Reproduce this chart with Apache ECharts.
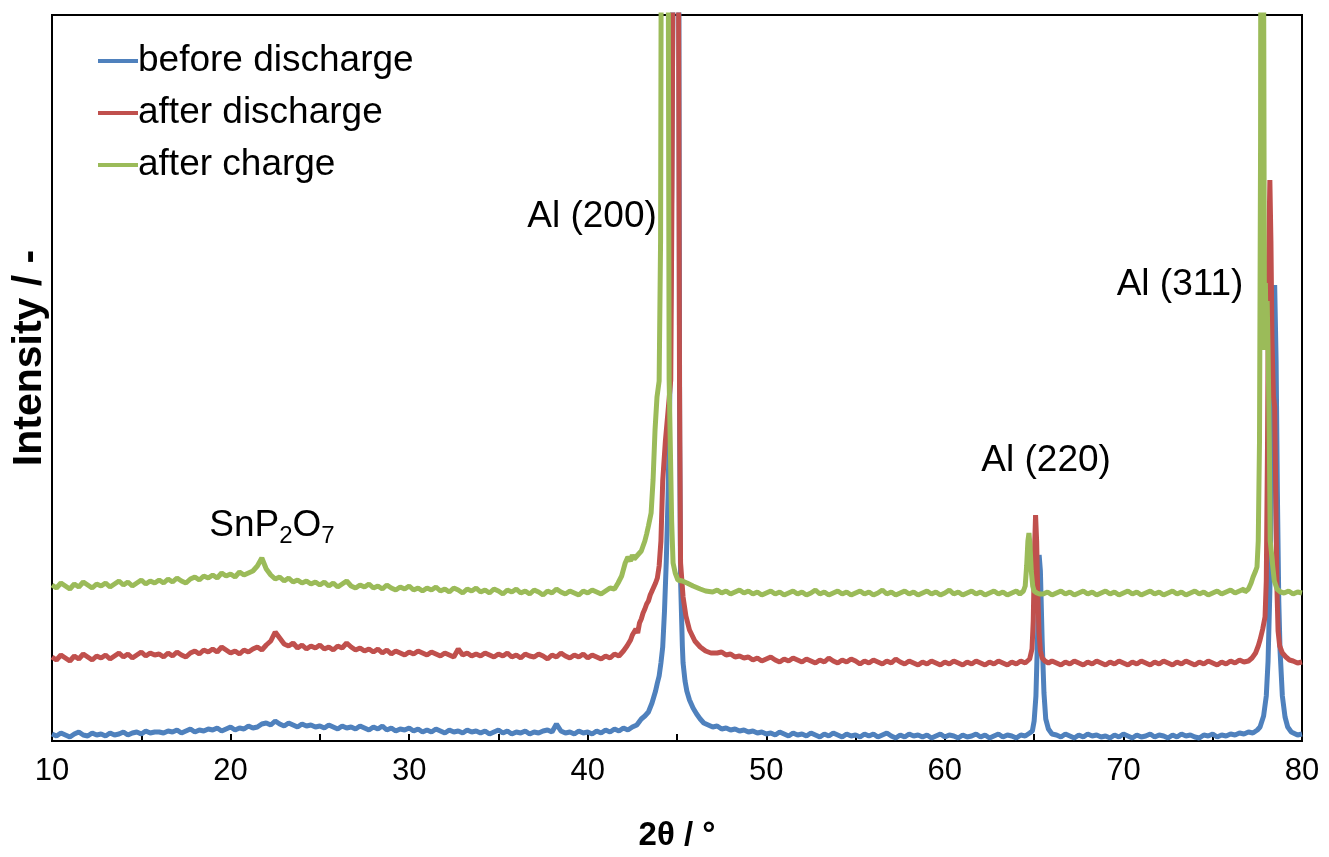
<!DOCTYPE html>
<html>
<head>
<meta charset="utf-8">
<script src="https://cdn.jsdelivr.net/npm/echarts@6/dist/echarts.min.js"></script>
<style>
html,body{margin:0;padding:0;background:#fff;}
#chart{width:1329px;height:857px;}
</style>
</head>
<body>
<div id="chart"></div>
<script>
// x grid: 10 .. 80 step 0.25 (281 points); rows of 12 values = 3 degrees
const gridStart = 10, gridStep = 0.25;
const seriesNames = ['before discharge', 'after discharge', 'after charge'];
const xTicks = [10, 20, 30, 40, 50, 60, 70, 80];

const blueBase = [
/*10*/ 7,5,8,6,4,7,9,6,5,8,6,7,
/*13*/ 5,8,6,7,9,6,8,9,7,10,8,9,
/*16*/ 9,8,10,9,11,8,10,12,9,11,10,12,
/*19*/ 11,13,10,12,14,11,13,12,15,13,14,17,
/*22*/ 18,16,20,17,15,18,16,14,17,15,16,14,
/*25*/ 15,13,16,14,12,15,13,14,12,15,13,11,
/*28*/ 14,12,15,11,13,10,12,11,13,10,12,9,
/*31*/ 11,9,12,10,8,11,9,10,8,11,9,10,
/*34*/ 8,10,7,9,11,8,10,7,9,8,10,7,
/*37*/ 9,8,10,11,9,17,10,8,9,7,10,8,
/*40*/ 9,7,10,8,11,9,12,10,13,11,14,16,
/*43*/ 20,24,30,40,60,90,200,400,900,150,60,40,
/*46*/ 30,24,20,16,14,15,12,13,11,12,10,11,
/*49*/ 9,10,8,9,7,8,6,9,7,5,8,6,
/*52*/ 7,5,8,6,4,7,5,8,6,4,7,5,
/*55*/ 6,4,7,5,7,4,6,8,5,3,6,4,
/*58*/ 7,5,6,4,6,3,5,7,4,6,5,3,
/*61*/ 6,4,5,7,4,6,3,5,7,4,6,5,
/*64*/ 3,6,5,8,20,100,60,15,8,6,4,7,
/*67*/ 5,3,6,4,7,5,6,4,5,3,6,4,
/*70*/ 7,5,3,6,4,5,7,4,6,5,3,6,
/*73*/ 4,7,5,6,4,3,6,5,7,4,6,5,
/*76*/ 7,6,8,7,9,8,10,9,12,20,50,300,
/*79*/ 20,12,8,6,7
];
const bluePeak200 = [[43.0,22],[43.2,25],[43.4,29],[43.6,38],[43.7,44],[43.8,50],[43.9,58],[44.0,65],[44.1,78],[44.2,94],[44.3,130],[44.4,180],[44.5,244],[44.6,350],[44.7,550],[44.78,760],[44.85,1500],[45.02,1500],[45.1,800],[45.15,300],[45.2,161],[45.3,95],[45.34,78],[45.45,60],[45.55,50],[45.7,41],[45.9,33],[46.1,27],[46.3,22],[46.5,18]];
const bluePeak220 = [[64.8,6],[64.9,10],[65.0,20],[65.1,45],[65.2,110],[65.28,186],[65.35,170],[65.45,100],[65.55,48],[65.65,22],[65.8,12],[66.0,7]];
const bluePeak311 = [[77.3,8],[77.5,11],[77.65,14],[77.85,25],[78.0,45],[78.1,80],[78.2,150],[78.3,260],[78.4,400],[78.47,456],[78.55,380],[78.62,250],[78.7,140],[78.77,91],[78.9,45],[79.05,24],[79.2,14],[79.4,9]];

const redBase = [
/*10*/ 84,81,86,83,80,85,82,87,84,81,85,83,
/*13*/ 86,82,85,88,84,87,83,86,89,85,88,86,
/*16*/ 87,84,88,85,89,86,84,88,90,87,91,89,
/*19*/ 92,89,94,91,88,90,87,91,89,92,94,91,
/*22*/ 96,100,109,103,97,95,98,93,96,92,95,93,
/*25*/ 96,92,94,91,95,93,98,94,91,93,90,92,
/*28*/ 89,92,88,91,87,90,88,86,89,87,90,88,
/*31*/ 86,89,87,85,88,86,84,92,86,88,85,87,
/*34*/ 85,88,86,84,87,85,88,84,86,83,87,85,
/*37*/ 84,87,85,82,86,84,88,85,83,86,84,87,
/*40*/ 83,86,84,82,85,83,87,85,84,86,88,90,
/*43*/ 122,140,158,200,330,1500,1500,178,144,125,111,105,
/*46*/ 100,96,94,92,90,88,89,86,87,84,85,83,
/*49*/ 84,81,83,80,82,84,81,79,82,80,83,81,
/*52*/ 79,82,80,78,81,79,83,80,78,81,79,82,
/*55*/ 80,77,80,78,81,79,77,80,78,82,79,77,
/*58*/ 80,78,76,79,77,80,78,76,79,77,80,78,
/*61*/ 76,79,77,80,78,76,79,77,80,78,76,79,
/*64*/ 77,80,78,82,130,226,110,83,80,78,76,79,
/*67*/ 77,80,78,76,79,77,80,78,76,79,77,80,
/*70*/ 78,76,79,77,80,78,76,79,77,80,78,76,
/*73*/ 79,77,80,78,76,79,77,80,78,76,79,77,
/*76*/ 80,78,81,79,83,90,110,300,400,150,95,88,
/*79*/ 84,82,80,78,79
];
const redPeak200 = [[42.0,90],[42.2,95],[42.4,101],[42.5,106],[42.6,104],[42.7,112],[42.8,108],[42.9,118],[43.0,122],[43.1,128],[43.2,132],[43.3,137],[43.4,140],[43.5,146],[43.6,150],[43.7,154],[43.8,158],[43.9,163],[44.0,175],[44.1,200],[44.2,260],[44.35,300],[44.5,330],[44.65,361],[44.72,550],[44.78,800],[44.85,1500],[45.02,1500],[45.08,800],[45.14,361],[45.2,178],[45.34,144],[45.5,125],[45.7,111],[46.0,100],[46.3,94],[46.6,90],[46.9,88]];
const redPeak220 = [[64.6,80],[64.75,82],[64.88,92],[64.95,120],[65.02,190],[65.08,226],[65.14,200],[65.2,150],[65.27,110],[65.35,90],[65.45,83],[65.6,80],[65.8,78]];
const redPeak311 = [[77.0,80],[77.2,83],[77.4,88],[77.55,95],[77.65,101],[77.8,112],[77.93,124],[78.0,160],[78.07,300],[78.13,480],[78.2,561],[78.26,500],[78.32,400],[78.4,345],[78.47,334],[78.53,250],[78.6,150],[78.66,110],[78.75,95],[78.9,88],[79.1,84],[79.3,81],[79.5,80]];

const greenBase = [
/*10*/ 156,153,158,155,152,157,154,159,156,153,157,155,
/*13*/ 158,154,157,160,156,159,155,158,161,157,160,158,
/*16*/ 161,158,162,159,163,160,158,162,164,161,165,163,
/*19*/ 166,163,168,165,167,164,169,166,168,170,175,183,
/*22*/ 172,166,162,164,160,163,159,161,158,160,157,159,
/*25*/ 156,159,155,158,154,157,160,155,153,156,154,157,
/*28*/ 153,155,152,156,153,151,154,152,155,151,153,150,
/*31*/ 153,151,154,150,152,149,153,151,148,152,150,153,
/*34*/ 149,151,148,152,150,147,151,149,152,148,150,147,
/*37*/ 151,149,146,150,148,152,149,147,150,148,146,150,
/*40*/ 148,151,149,147,150,153,155,158,165,178,184,180,
/*43*/ 190,200,215,261,360,1500,1500,360,178,161,160,158,
/*46*/ 156,152,151,150,149,151,148,150,147,149,151,148,
/*49*/ 150,147,149,146,148,150,147,149,146,148,150,147,
/*52*/ 149,146,148,151,147,149,146,148,150,147,149,146,
/*55*/ 148,150,147,149,146,148,151,147,149,146,148,150,
/*58*/ 147,149,146,148,150,147,149,146,148,151,147,149,
/*61*/ 146,148,150,147,149,146,148,150,147,149,146,148,
/*64*/ 150,147,160,205,170,150,147,149,146,148,150,147,
/*67*/ 149,146,148,150,147,149,146,148,150,147,149,146,
/*70*/ 148,150,147,149,146,148,150,147,149,146,148,150,
/*73*/ 147,149,146,148,150,147,149,146,148,150,147,149,
/*76*/ 151,148,150,152,160,170,600,450,200,160,152,149,
/*79*/ 148,150,147,149,148
];
const greenPeak200 = [[41.5,152],[41.7,158],[41.9,165],[42.1,178],[42.25,184],[42.4,180],[42.5,186],[42.6,182],[42.8,186],[42.9,184],[43.0,190],[43.1,195],[43.2,200],[43.3,207],[43.4,215],[43.55,228],[43.66,261],[43.77,311],[43.88,344],[44.0,360],[44.08,500],[44.13,900],[44.2,1500],[44.45,1500],[44.52,700],[44.56,361],[44.7,220],[44.78,178],[44.9,168],[45.05,161],[45.3,160],[45.56,158],[45.9,155],[46.3,152],[46.6,150],[47.0,149]];
const greenPeak220 = [[64.2,147],[64.4,150],[64.5,155],[64.58,175],[64.65,200],[64.71,208],[64.77,195],[64.84,170],[64.92,155],[65.0,150],[65.15,148],[65.3,147]];
const greenPeak311 = [[76.8,149],[77.0,152],[77.15,158],[77.26,164],[77.4,170],[77.48,174],[77.55,200],[77.62,300],[77.68,600],[77.73,1500],[77.8,1500],[77.86,700],[77.9,391],[77.95,458],[78.0,391],[78.05,440],[78.1,391],[78.17,300],[78.22,200],[78.28,190],[78.36,175],[78.45,160],[78.6,152],[78.8,149]];

// annotations: [text, x (2θ), y (intensity units)]
const annotations = [
  ['Al (200)', 40.24, 524],
  ['Al (220)', 65.67, 280],
  ['Al (311)', 73.17, 456],
  ['{a|SnP}{b|2}{a|O}{b|7}', 22.32, 219]
];

function build(base, peaks) {
  const pts = [];
  base.forEach(function (v, i) {
    const x = gridStart + i * gridStep;
    const inPeak = peaks.some(function (p) { return x >= p[0][0] && x <= p[p.length - 1][0]; });
    if (!inPeak) pts.push([x, v]);
  });
  peaks.forEach(function (p) { p.forEach(function (q) { pts.push(q); }); });
  pts.sort(function (a, b) { return a[0] - b[0]; });
  return pts;
}

const colors = ['#4f81bd', '#c0504d', '#9bbb59'];
const seriesData = [
  build(blueBase, [bluePeak200, bluePeak220, bluePeak311]),
  build(redBase, [redPeak200, redPeak220, redPeak311]),
  build(greenBase, [greenPeak200, greenPeak220, greenPeak311])
];

const FONT = '"Liberation Sans", Arial, sans-serif';
const chart = echarts.init(document.getElementById('chart'), null, {renderer: 'canvas'});
chart.setOption({
  animation: false,
  backgroundColor: '#ffffff',
  color: colors,
  grid: {left: 52, right: 27, top: 15, bottom: 116, show: true, borderColor: '#000', borderWidth: 2, containLabel: false, outerBoundsMode: 'none'},
  legend: {
    orient: 'vertical', left: 93, top: 36,
    itemWidth: 40, itemHeight: 4, itemGap: 12, icon: 'rect',
    textStyle: {fontFamily: FONT, fontSize: 37, color: '#000', lineHeight: 40, padding: [0, 0, 0, -5]},
    data: seriesNames
  },
  xAxis: {
    type: 'value', min: 10, max: 80, interval: 5,
    name: '2θ / °', nameLocation: 'middle', nameGap: 78,
    nameTextStyle: {fontFamily: FONT, fontSize: 33, fontWeight: 'bold', color: '#000'},
    axisLine: {show: true, lineStyle: {color: '#000', width: 2}},
    axisTick: {show: true, inside: true, length: 7, lineStyle: {color: '#000', width: 2}},
    axisLabel: {
      fontFamily: FONT, fontSize: 31, color: '#000', margin: 15,
      formatter: function (v) { return xTicks.indexOf(v) >= 0 ? String(v) : ''; }
    },
    splitLine: {show: false}
  },
  yAxis: {
    type: 'value', min: 0, max: 726,
    name: 'Intensity / -', nameLocation: 'middle', nameGap: 2, nameRotate: 90,
    nameTextStyle: {fontFamily: FONT, fontSize: 41, fontWeight: 'bold', color: '#000', padding: [0, 0, 0, 40]},
    axisLine: {show: true, lineStyle: {color: '#000', width: 2}},
    axisTick: {show: false}, axisLabel: {show: false}, splitLine: {show: false}
  },
  series: seriesData.map(function (d, i) {
    return {
      name: seriesNames[i], type: 'line', data: d, showSymbol: false, symbol: 'none',
      lineStyle: {width: 5, color: colors[i]}, itemStyle: {color: colors[i]}, clip: true, z: 2 + i
    };
  })
});

const graphics = annotations.map(function (a) {
  const p = chart.convertToPixel({gridIndex: 0}, [a[1], a[2]]);
  return {
    type: 'text', x: p[0], y: p[1], z: 100,
    style: {
      text: a[0], fill: '#000', font: '37px ' + FONT, align: 'center', verticalAlign: 'middle',
      rich: {
        a: {fontSize: 37, fontFamily: FONT, fill: '#000', lineHeight: 44, verticalAlign: 'bottom'},
        b: {fontSize: 24, fontFamily: FONT, fill: '#000', lineHeight: 24, verticalAlign: 'bottom', padding: [0, 0, -4, 0]}
      }
    }
  };
});
chart.setOption({graphic: graphics});
</script>
</body>
</html>
